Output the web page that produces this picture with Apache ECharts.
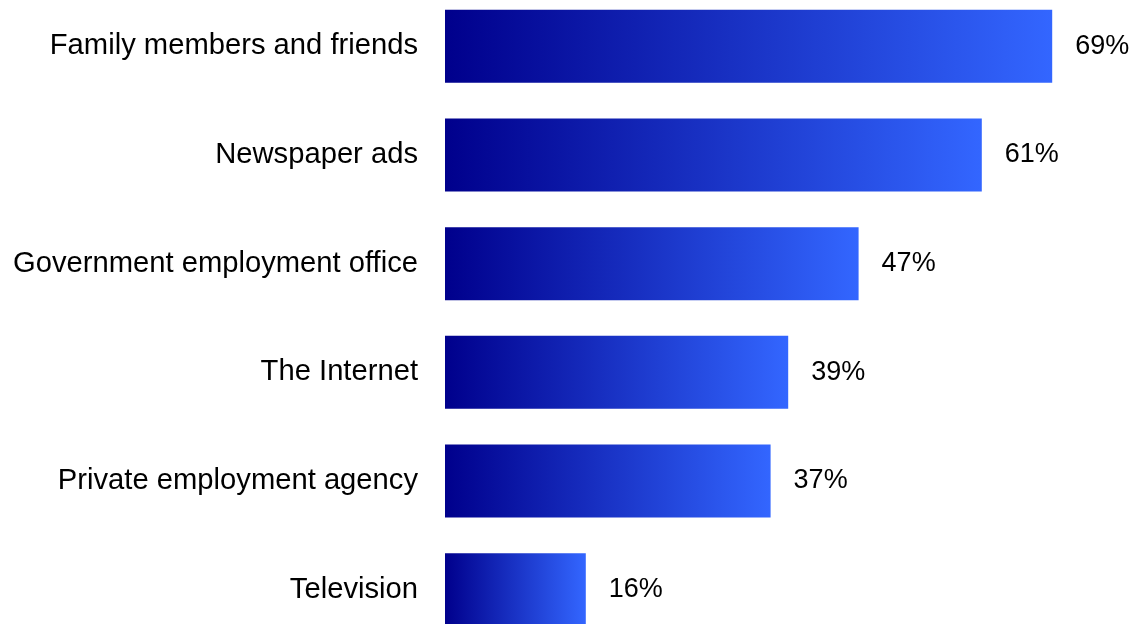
<!DOCTYPE html>
<html>
<head>
<meta charset="utf-8">
<script src="https://cdn.jsdelivr.net/npm/echarts@6/dist/echarts.min.js"></script>
<style>
  html, body { margin: 0; padding: 0; background: #ffffff; }
  #chart { width: 1136px; height: 624px; }
</style>
</head>
<body>
<div id="chart"></div>
<script>
// Sources used when looking for a job (share of respondents, %)
const categories = [
  'Family members and friends',
  'Newspaper ads',
  'Government employment office',
  'The Internet',
  'Private employment agency',
  'Television'
];
const shares = [69, 61, 47, 39, 37, 16];

const chart = echarts.init(document.getElementById('chart'));

const barGradient = new echarts.graphic.LinearGradient(0, 0, 1, 0, [
  { offset: 0, color: '#00008c' },
  { offset: 1, color: '#3366ff' }
]);

chart.setOption({
  animation: false,
  backgroundColor: '#ffffff',
  grid: {
    left: 445, top: -8, width: 616, height: 652,
    containLabel: false,
    outerBoundsMode: 'none'
  },
  xAxis: {
    type: 'value',
    min: 0,
    max: 70,
    show: false
  },
  yAxis: {
    type: 'category',
    data: categories,
    inverse: true,
    axisLine: { show: false },
    axisTick: { show: false },
    axisLabel: {
      margin: 27,
      color: '#000000',
      fontFamily: 'Liberation Sans, Arial, sans-serif',
      fontSize: 29.2,
      padding: [0, 0, 10, 0]
    }
  },
  series: [{
    type: 'bar',
    data: shares,
    barWidth: 73,
    itemStyle: { color: barGradient },
    label: {
      show: true,
      position: 'right',
      distance: 23,
      formatter: '{c}%',
      color: '#000000',
      fontFamily: 'Liberation Sans, Arial, sans-serif',
      fontSize: 27
    }
  }]
});
</script>
</body>
</html>
